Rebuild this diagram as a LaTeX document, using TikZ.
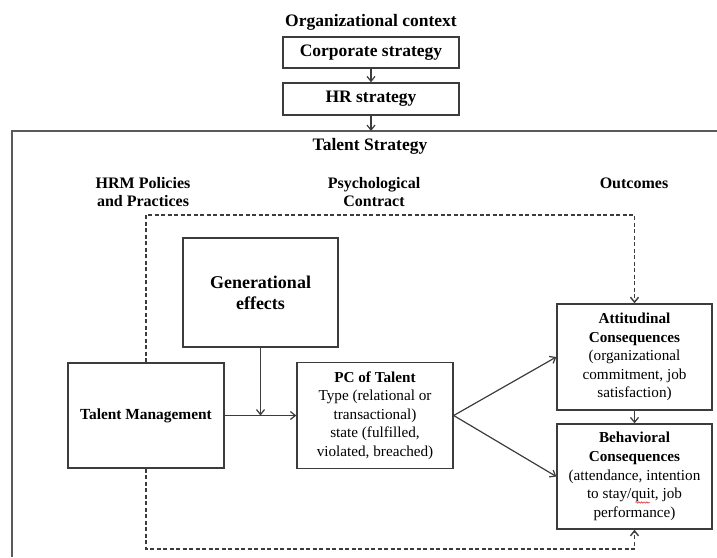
\documentclass[tikz,border=0pt]{standalone}
\usepackage{fontspec}
\setmainfont{Liberation Serif}
\usetikzlibrary{arrows.meta,decorations.pathmorphing}
\definecolor{lineclr}{HTML}{3C3C3C}
\definecolor{frameclr}{HTML}{5A5A5A}
\definecolor{spellred}{HTML}{E03030}
\begin{document}
\begin{tikzpicture}[x=1pt,y=-1pt,
  box/.style={draw=lineclr,line width=1.4pt,align=center,inner sep=2pt},
  headtxt/.style={font=\fontsize{17.5}{20}\selectfont\bfseries,align=center},
  coltxt/.style={font=\fontsize{16}{18.5}\selectfont\bfseries,align=center},
  bodytxt/.style={font=\fontsize{15.2}{18.6}\selectfont},
  link/.style={draw=lineclr,line width=1.2pt,-{Straight Barb[length=5pt,width=8pt]}},
  dlink/.style={link,line width=1.4pt,dash pattern=on 4pt off 2.5pt},
  squiggle/.style={spellred,line width=0.6pt,decorate,decoration={snake,amplitude=0.7pt,segment length=2.6pt}}]
\useasboundingbox (0,0) rectangle (717,557);

% outer frame of the talent strategy
\draw[frameclr,line width=1.8pt] (12,557) -- (12,131) -- (717,131);
\coordinate (ftop) at (0,131);
\coordinate (dtop) at (0,215);
\coordinate (dbot) at (0,549);

% organizational context
\node[headtxt] (org) at (371,22) {Organizational context};
\node[box,headtxt,minimum width=176pt,minimum height=31pt] (corp) at (371,52.5) {Corporate strategy};
\node[box,headtxt,minimum width=176pt,minimum height=32pt] (hr) at (371,99) {HR strategy};
\node[headtxt] (ts) at (370,146) {Talent Strategy};

% column headings
\node[coltxt] (hrm) at (143,192) {HRM Policies\\and Practices};
\node[coltxt] (psy) at (374,192) {Psychological\\Contract};
\node[coltxt] (out) at (634,183) {Outcomes};

% main boxes
\node[box,minimum width=155pt,minimum height=109pt,font=\fontsize{18}{21}\selectfont\bfseries] (gen) at (260.5,292.5) {Generational\\effects};
\node[box,bodytxt,minimum width=156pt,minimum height=105pt,font=\fontsize{15.4}{18.6}\selectfont\bfseries] (tm) at (146,415.5) {Talent Management};
\node[box,bodytxt,minimum width=156pt,minimum height=106pt] (pc) at (375,415.5)
  {\textbf{PC of Talent}\\Type (relational or\\transactional)\\state (fulfilled,\\violated, breached)};
\node[box,bodytxt,minimum width=155pt,minimum height=106pt] (att) at (634.5,357)
  {\textbf{Attitudinal}\\\textbf{Consequences}\\(organizational\\commitment, job\\satisfaction)};
\node[box,bodytxt,minimum width=155pt,minimum height=105pt] (beh) at (634.5,476.5)
  {\textbf{Behavioral}\\\textbf{Consequences}\\(attendance, intention\\to stay/quit, job\\performance)};
% spell-check underline beneath "quit"
\draw[squiggle] ([shift={(1,26)}]beh.center) -- ([shift={(15,26)}]beh.center);

% connectors
\draw[link] (corp) -- (hr);
\draw[link] (hr) -- (hr.south |- ftop);
\draw[link] (tm) -- (pc);
\draw[link] (gen) -- (gen.south |- tm.east);
\draw[link] (pc.east) -- (att.west);
\draw[link] (pc.east) -- (beh.west);
\draw[link] (att) -- (beh);
\draw[dlink] (tm.north) -- (tm.north |- dtop) -| (att.north);
\draw[dlink] (tm.south) -- (tm.south |- dbot) -| (beh.south);
\end{tikzpicture}
\end{document}
